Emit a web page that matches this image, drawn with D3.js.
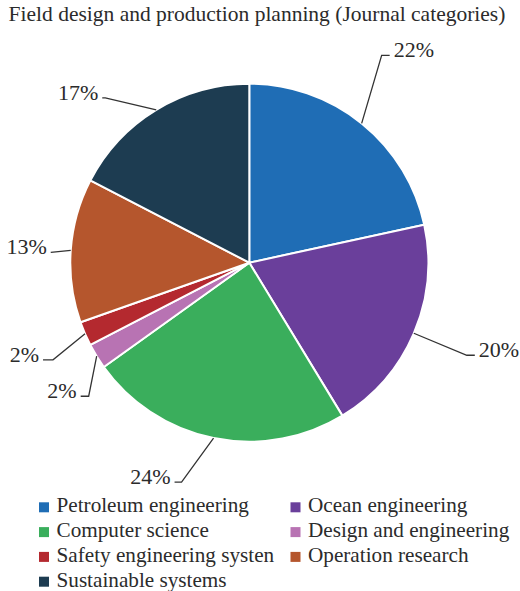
<!DOCTYPE html>
<html>
<head>
<meta charset="utf-8">
<script src="https://cdn.jsdelivr.net/npm/d3@7"></script>
<style>
  html, body { margin: 0; padding: 0; background: #fff; }
  svg { display: block; }
</style>
</head>
<body>
<svg id="chart" width="520" height="591"></svg>
<script>
// ---- data ----
const title = "Field design and production planning (Journal categories)";
const categories = [
  "Petroleum engineering",
  "Ocean engineering",
  "Computer science",
  "Design and engineering",
  "Safety engineering systen",
  "Operation research",
  "Sustainable systems"
];
const values = [21.6, 19.7, 23.8, 2.3, 2.2, 13.0, 17.4];
const labels = ["22%", "20%", "24%", "2%", "2%", "13%", "17%"];
const colors = ["#1f6db5", "#6a3f9b", "#3aae5c", "#b873b3", "#b4292f", "#b5562d", "#1d3c51"];

// leader layout (offset of elbow from slice edge point, tail length)
const leaderOffsets = [[20, -68], [53, 22], [-32, 44], [-8, 40], [-32, 26], [-20, 2], [-51, -12]];
const leaderTails = [8, 8, -7, -8, -10, 0, -3];

const FONT = "'Liberation Serif', 'Times New Roman', Times, 'DejaVu Serif', serif";
const TEXTCOL = "#2b2b2b";

// ---- layout ----
const svg = d3.select("#chart");
const cx = 249.3, cy = 262.7, R = 179;

svg.append("text")
  .attr("x", 257).attr("y", 21)
  .attr("text-anchor", "middle")
  .attr("font-family", FONT)
  .attr("fill", TEXTCOL)
  .attr("font-size", 21.5)
  .text(title);

const pie = d3.pie().value(d => d).sort(null);
const arcs = pie(values);
const arc = d3.arc().innerRadius(0).outerRadius(R);

const g = svg.append("g").attr("transform", `translate(${cx},${cy})`);
g.selectAll("path.slice")
  .data(arcs)
  .join("path")
  .attr("class", "slice")
  .attr("d", arc)
  .attr("fill", (d, i) => colors[i])
  .attr("stroke", "#fff")
  .attr("stroke-width", 2)
  .attr("stroke-linejoin", "round");

// leaders & labels
const lab = g.append("g");
arcs.forEach((a, i) => {
  const mid = (a.startAngle + a.endAngle) / 2;
  const sx = R * Math.sin(mid), sy = -R * Math.cos(mid);
  const ex = sx + leaderOffsets[i][0], ey = sy + leaderOffsets[i][1];
  const tx = ex + leaderTails[i];
  const right = leaderOffsets[i][0] > 0;
  lab.append("path")
    .attr("d", `M${sx},${sy}L${ex},${ey}L${tx},${ey}`)
    .attr("fill", "none")
    .attr("stroke", "#333")
    .attr("stroke-width", 1.3);
  lab.append("text")
    .attr("x", tx + (right ? 4 : -4))
    .attr("y", ey + 2)
    .attr("text-anchor", right ? "start" : "end")
    .attr("font-family", FONT)
    .attr("fill", TEXTCOL)
    .attr("font-size", 22)
    .text(labels[i]);
});

// legend
const legend = svg.append("g");
const colX = [39, 290.5];
const rowY0 = 512.3, rowStep = 24.8;
categories.forEach((c, i) => {
  const col = i % 2, row = Math.floor(i / 2);
  const x = colX[col], y = rowY0 + row * rowStep;
  legend.append("rect")
    .attr("x", x).attr("y", y - 10)
    .attr("width", 10).attr("height", 10)
    .attr("fill", colors[i]);
  legend.append("text")
    .attr("x", x + 17.5).attr("y", y)
    .attr("font-family", FONT)
    .attr("fill", TEXTCOL)
    .attr("font-size", 21.2)
    .text(c);
});
</script>
</body>
</html>
